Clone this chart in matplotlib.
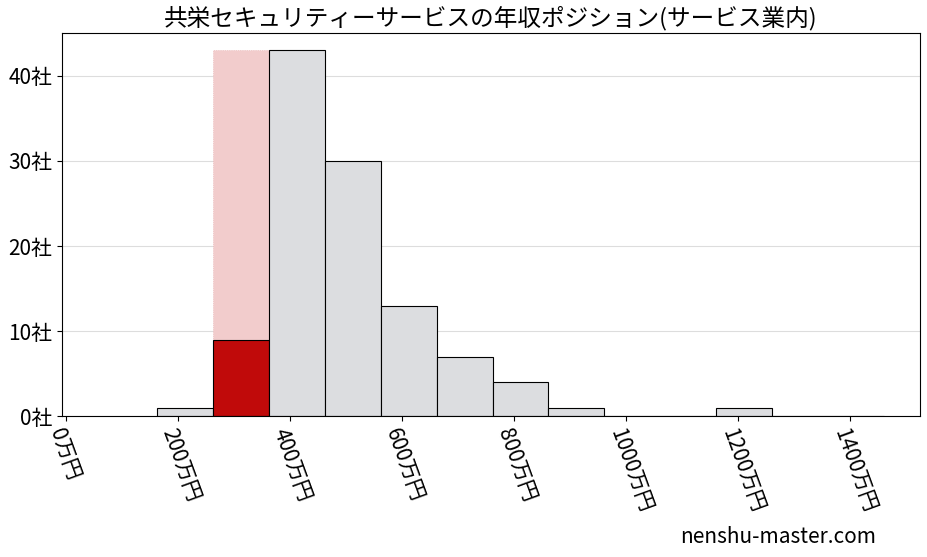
import matplotlib
matplotlib.use("Agg")
import matplotlib.pyplot as plt

plt.rcParams['font.family'] = ['Noto Sans CJK JP', 'DejaVu Sans']

title = "共栄セキュリティーサービスの年収ポジション(サービス業内)"
bin_left = [162, 262, 362, 462, 562, 662, 762, 862, 962, 1062, 1162, 1262, 1362]
counts = [1, 9, 43, 30, 13, 7, 4, 1, 0, 0, 1, 0, 0]
bin_width = 100
highlight_index = 1
highlight_height = 43
xticks = [0, 200, 400, 600, 800, 1000, 1200, 1400]
yticks = [0, 10, 20, 30, 40]

fig, ax = plt.subplots(figsize=(9.27, 5.57), dpi=100)
fig.subplots_adjust(left=0.067, right=0.992, top=0.94, bottom=0.253)

ax.bar(bin_left[highlight_index], highlight_height, width=bin_width, align='edge',
       color='#f2cccc', edgecolor='#e8b0b0', linewidth=0.5, linestyle=':', zorder=1)
colors = ['#c00a0a' if i == highlight_index else '#dcdde0' for i in range(len(counts))]
ax.bar(bin_left, counts, width=bin_width, align='edge', color=colors,
       edgecolor='black', linewidth=0.8, zorder=2)

ax.set_xlim(-7, 1525)
ax.set_ylim(0, 45)
ax.set_xticks(xticks)
ax.set_xticklabels([f"{v}万円" for v in xticks], rotation=-70, ha='left',
                   rotation_mode='anchor', fontsize=15)
ax.set_yticks(yticks)
ax.set_yticklabels([f"{v}社" for v in yticks], fontsize=15)
ax.grid(axis='y', color='#dddddd', linewidth=0.8, zorder=0)
ax.set_axisbelow(True)
ax.set_title(title, fontsize=17)
fig.text(0.945, 0.025, "nenshu-master.com", ha='right', fontsize=15)

fig.savefig("out.png")
